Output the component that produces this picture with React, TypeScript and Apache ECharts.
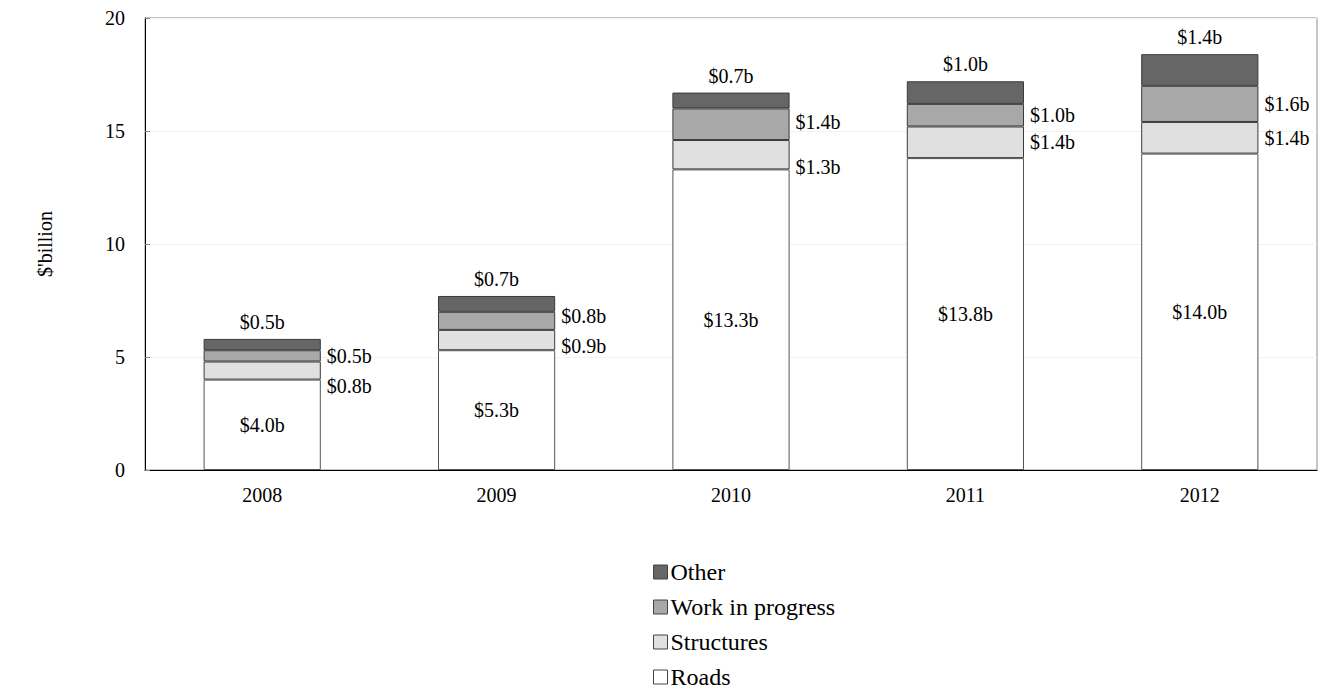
import React, { useEffect, useRef } from "react";
import * as echarts from "echarts";

const years = ["2008", "2009", "2010", "2011", "2012"];
const roads = [4.0, 5.3, 13.3, 13.8, 14.0];
const structures = [0.8, 0.9, 1.3, 1.4, 1.4];
const workInProgress = [0.5, 0.8, 1.4, 1.0, 1.6];
const other = [0.5, 0.7, 0.7, 1.0, 1.4];
const yTicks = [0, 5, 10, 15, 20];

// vertical nudges of side labels (pixels) to avoid overlap
const structuresShift = [15, 6, 12, 0, 0];
const wipShift = [0, -5, -2, 0, 0];

const FONT = "Liberation Serif";
const FS = 20;
const LEGEND_FS = 24;

export default function App() {
  const ref = useRef<HTMLDivElement>(null);
  useEffect(() => {
    if (!ref.current) return;
    const chart = echarts.init(ref.current, null, { renderer: "svg" });
    const fmt = (p: any) => "$" + Number(p.value).toFixed(1) + "b";
    const border = { borderColor: "#3a3a3a", borderWidth: 1 };
    const sideData = (vals: number[], shifts: number[]) =>
      vals.map((v, i) => ({ value: v, label: { offset: [0, shifts[i]] } }));
    chart.setOption({
      animation: false,
      textStyle: { fontFamily: FONT },
      grid: {
        left: 145,
        right: 4,
        top: 18,
        bottom: 220,
        show: true,
        borderColor: "#8c8c8c",
        borderWidth: 1,
        outerBoundsMode: "none",
      },
      legend: {
        orient: "vertical",
        left: 648,
        top: 555,
        height: 135,
        itemWidth: 14,
        itemHeight: 14,
        itemGap: 11,
        icon: "rect",
        data: ["Other", "Work in progress", "Structures", "Roads"],
        textStyle: { fontFamily: FONT, fontSize: LEGEND_FS, color: "#000", padding: [0, 0, 0, -2] },
        itemStyle: { borderColor: "#444", borderWidth: 1 },
      },
      xAxis: {
        type: "category",
        data: years,
        axisLine: { lineStyle: { color: "#000", width: 1 } },
        axisTick: { inside: true, length: 6, lineStyle: { color: "#888" } },
        axisLabel: { fontFamily: FONT, fontSize: FS, color: "#000", margin: 15 },
      },
      yAxis: {
        type: "value",
        min: 0,
        max: 20,
        interval: 5,
        name: "$'billion",
        nameLocation: "middle",
        nameGap: 90,
        nameRotate: 90,
        nameTextStyle: { fontFamily: FONT, fontSize: FS, color: "#000" },
        axisLine: { show: true, lineStyle: { color: "#000", width: 1 } },
        axisTick: { show: true, inside: true, length: 5, lineStyle: { color: "#888" } },
        splitLine: { show: true, lineStyle: { color: "#f2f2f2" } },
        axisLabel: {
          fontFamily: FONT,
          fontSize: FS,
          color: "#000",
          margin: 20,
          formatter: (v: number) => (yTicks.includes(v) ? String(v) : ""),
        },
      },
      series: [
        {
          name: "Roads",
          type: "bar",
          stack: "t",
          barWidth: "50%",
          data: roads,
          itemStyle: { color: "#ffffff", borderColor: "#555", borderWidth: 1 },
          label: { show: true, position: "inside", formatter: fmt, fontFamily: FONT, fontSize: FS, color: "#000" },
        },
        {
          name: "Structures",
          type: "bar",
          stack: "t",
          data: sideData(structures, structuresShift),
          itemStyle: { color: "#e0e0e0", ...border },
          label: { show: true, position: "right", distance: 6, formatter: fmt, fontFamily: FONT, fontSize: FS, color: "#000" },
        },
        {
          name: "Work in progress",
          type: "bar",
          stack: "t",
          data: sideData(workInProgress, wipShift),
          itemStyle: { color: "#a8a8a8", ...border },
          label: { show: true, position: "right", distance: 6, formatter: fmt, fontFamily: FONT, fontSize: FS, color: "#000" },
        },
        {
          name: "Other",
          type: "bar",
          stack: "t",
          data: other,
          itemStyle: { color: "#666666", ...border },
          label: { show: true, position: "top", distance: 7, formatter: fmt, fontFamily: FONT, fontSize: FS, color: "#000" },
        },
      ],
    });
    return () => chart.dispose();
  }, []);
  return <div ref={ref} style={{ width: 1321, height: 690, position: "absolute", left: 0, top: 0 }} />;
}
